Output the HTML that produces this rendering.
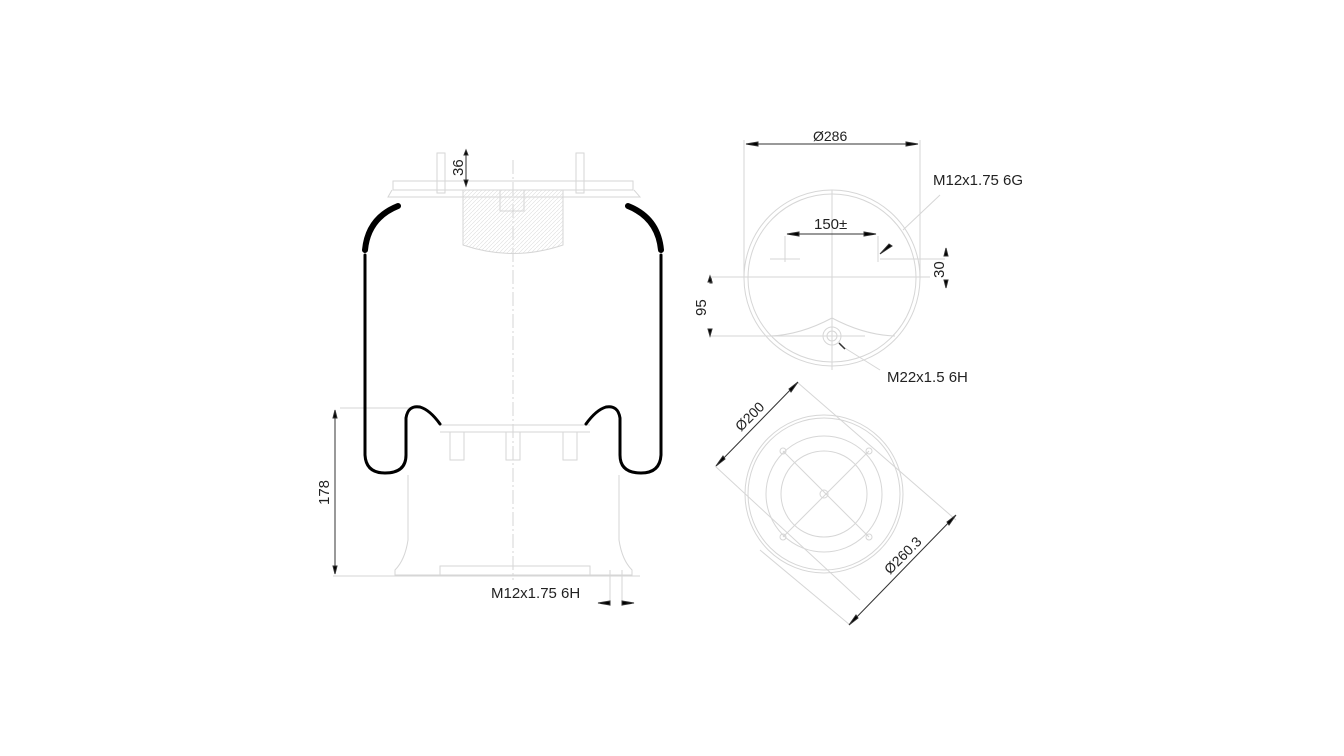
<!DOCTYPE html>
<html><head><style>
html,body{margin:0;padding:0;background:#fff;}
svg{display:block;}
text{font-family:"Liberation Sans",sans-serif;fill:#222;}
</style></head><body>
<svg width="1344" height="756" viewBox="0 0 1344 756" xmlns="http://www.w3.org/2000/svg">
<defs>
<pattern id="hatch" width="4" height="4" patternUnits="userSpaceOnUse"><path d="M0 4L4 0" stroke="#ddd" stroke-width="0.6"/></pattern>
</defs>
<!-- LEFT VIEW faint lines -->
<g fill="none" stroke="#d6d6d6" stroke-width="1">
<line x1="513" y1="160" x2="513" y2="580" stroke-dasharray="14 3 2 3"/>
<rect x="393" y="181" width="240" height="9"/>
<rect x="437" y="153" width="8" height="40"/>
<rect x="576" y="153" width="8" height="40"/>
<path d="M392 190 L388 197 L640 197 L634 190"/>
<path d="M463 190 L463 245 Q513 262 563 245 L563 190Z" fill="url(#hatch)"/>
<rect x="500" y="190" width="24" lines="" height="21"/>
<line x1="340" y1="408" x2="420" y2="408"/>
<line x1="440" y1="425" x2="590" y2="425"/>
<line x1="440" y1="432" x2="590" y2="432"/>
<rect x="450" y="432" width="14" height="28"/><rect x="506" y="432" width="14" height="28"/><rect x="563" y="432" width="14" height="28"/>
<path d="M408 475 L408 540 Q405 560 395 570 L395 575 L632 575 L632 570 Q622 560 619 540 L619 475"/>
<line x1="333" y1="576" x2="640" y2="576"/>
<rect x="440" y="566" width="150" height="9"/>
<line x1="610" y1="570" x2="610" y2="606"/><line x1="622" y1="570" x2="622" y2="606"/>
</g>
<!-- bellows thick outline -->
<g fill="none" stroke="#000" stroke-linecap="round">
<path d="M398 206 Q368 218 365 250" stroke-width="6"/>
<path d="M628 206 Q658 218 661 250" stroke-width="6"/>
<path d="M365 255 L365 455 Q366 473 385 473 Q406 473 406 455 L406 418 Q408 405 420 407 Q430 410 440 424" stroke-width="3"/>
<path d="M661 255 L661 455 Q660 473 641 473 Q620 473 620 455 L620 418 Q618 405 606 407 Q596 410 586 424" stroke-width="3"/>
</g>
<!-- dimension 36 -->
<g stroke="#333" fill="#000">
<line x1="466" y1="153" x2="466" y2="183"/>
<path d="M464 155 L468 155 L466 150Z M464 180 L468 180 L466 186Z"/>
<line x1="335" y1="410" x2="335" y2="574"/>
<path d="M333 418 L337 418 L335 410Z M333 566 L337 566 L335 574Z"/>
<path d="M598 603 L610 601 L610 605Z M634 603 L622 601 L622 605Z"/>
</g>
<text x="0" y="0" font-size="15" transform="translate(463,176) rotate(-90)">36</text>
<text x="0" y="0" font-size="15" transform="translate(329,505) rotate(-90)">178</text>
<text x="491" y="598" font-size="15">M12x1.75 6H</text>
<!-- TOP RIGHT PLAN VIEW -->
<g fill="none" stroke="#d6d6d6" stroke-width="1">
<circle cx="832" cy="278" r="88"/>
<circle cx="832" cy="278" r="84"/>
<line x1="744" y1="140" x2="744" y2="278"/>
<line x1="920" y1="140" x2="920" y2="278"/>
<line x1="710" y1="277" x2="930" y2="277"/>
<line x1="710" y1="336" x2="865" y2="336"/>
<line x1="832" y1="190" x2="832" y2="370"/>
<line x1="785" y1="236" x2="785" y2="262"/>
<line x1="878" y1="236" x2="878" y2="262"/>
<line x1="770" y1="259" x2="800" y2="259"/>
<line x1="880" y1="259" x2="945" y2="259"/>
<path d="M770 336 Q800 335 832 318 Q864 335 895 336"/>
<circle cx="832" cy="336" r="9"/><circle cx="832" cy="336" r="5"/>
<line x1="840" y1="345" x2="880" y2="370"/>
<line x1="903" y1="230" x2="940" y2="195"/>
</g>
<g stroke="#333" fill="#000">
<line x1="746" y1="144" x2="918" y2="144"/>
<path d="M746 144 L758 142 L758 146Z M918 144 L906 142 L906 146Z"/>
<line x1="787" y1="234" x2="876" y2="234"/>
<path d="M787 234 L799 232 L799 236Z M876 234 L864 232 L864 236Z"/>
<path d="M880 254 L889 244 L892 246Z"/>
<path d="M710 283 L712 283 L711 278 Z" />
<path d="M708 282 L712 282 L710 276Z M708 329 L712 329 L710 336Z"/>
<path d="M944 256 L948 256 L946 248Z M944 280 L948 280 L946 288Z"/>
<path d="M839 343 L845 349" stroke-width="1.5"/>
</g>
<text x="813" y="141" font-size="14">Ø286</text>
<text x="933" y="185" font-size="15">M12x1.75 6G</text>
<text x="814" y="229" font-size="15">150±</text>
<text x="0" y="0" font-size="15" transform="translate(944,278) rotate(-90)">30</text>
<text x="0" y="0" font-size="15" transform="translate(706,316) rotate(-90)">95</text>
<text x="887" y="382" font-size="15">M22x1.5 6H</text>
<!-- BOTTOM RIGHT VIEW -->
<g fill="none" stroke="#d6d6d6" stroke-width="1">
<circle cx="824" cy="494" r="79"/>
<circle cx="824" cy="494" r="76"/>
<circle cx="824" cy="494" r="58"/>
<circle cx="824" cy="494" r="43"/>
<circle cx="824" cy="494" r="4"/>
<circle cx="783" cy="451" r="3"/><circle cx="869" cy="451" r="3"/><circle cx="783" cy="537" r="3"/><circle cx="869" cy="537" r="3"/>
<line x1="783" y1="451" x2="869" y2="537"/><line x1="869" y1="451" x2="783" y2="537"/>
<line x1="715" y1="466" x2="860" y2="600"/>
<line x1="797" y1="382" x2="956" y2="520"/>
<line x1="760" y1="550" x2="850" y2="625"/>
</g>
<g stroke="#333" fill="#000">
<line x1="717" y1="465" x2="797" y2="383"/>
<path d="M716 466 L723 456 L725 459Z M798 382 L791 392 L789 389Z"/>
<line x1="850" y1="624" x2="955" y2="516"/>
<path d="M849 625 L856 615 L858 618Z M956 515 L949 525 L947 522Z"/>
</g>
<text x="0" y="0" font-size="14" transform="translate(741,432) rotate(-45)">Ø200</text>
<text x="0" y="0" font-size="14" transform="translate(890,575) rotate(-45)">Ø260.3</text>
</svg>
</body></html>
